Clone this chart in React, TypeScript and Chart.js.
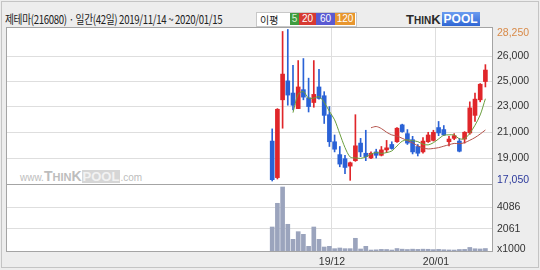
import React, { useEffect, useRef } from 'react';
import { Chart, registerables } from 'chart.js';

Chart.register(...registerables);

// ---- data -----------------------------------------------------------------
const dates: string[] = [
  '2019/11/14', '2019/11/15', '2019/11/18', '2019/11/19', '2019/11/20', '2019/11/21', '2019/11/22',
  '2019/11/25', '2019/11/26', '2019/11/27', '2019/11/28', '2019/11/29',
  '2019/12/02', '2019/12/03', '2019/12/04', '2019/12/05', '2019/12/06', '2019/12/09', '2019/12/10',
  '2019/12/11', '2019/12/12', '2019/12/13', '2019/12/16', '2019/12/17', '2019/12/18', '2019/12/19',
  '2019/12/20', '2019/12/23', '2019/12/24', '2019/12/26', '2019/12/27', '2019/12/30',
  '2020/01/02', '2020/01/03', '2020/01/06', '2020/01/07', '2020/01/08', '2020/01/09', '2020/01/10',
  '2020/01/13', '2020/01/14', '2020/01/15',
];
const opens = [20000, 17300, 23050, 24450, 23550, 22400, 23800, 23200, 22850, 24000, 23350, 21950, 19950, 19000, 18700, 18150, 18550, 19850, 19100, 18750, 19200, 18950, 19350, 19750, 19950, 21200, 20550, 20100, 19600, 19200, 19950, 20050, 21000, 20850, 19950, 20200, 20000, 20150, 20600, 21900, 23050, 24400];
const highs = [20900, 22400, 28100, 28250, 25600, 25950, 26100, 24650, 25950, 25300, 23650, 22550, 20450, 19600, 18950, 18450, 21950, 20200, 20800, 19200, 19400, 19600, 20050, 19950, 21000, 21250, 20850, 20350, 19750, 20250, 20650, 20800, 21450, 21150, 20350, 20550, 20200, 20700, 22900, 23550, 24250, 25650];
const lows = [17050, 17200, 20950, 22650, 22300, 22400, 23050, 22150, 22500, 23100, 21300, 19600, 19200, 18100, 17600, 17100, 18500, 18850, 18550, 18700, 18750, 18900, 19150, 19400, 19900, 20650, 19750, 19050, 18900, 19100, 19900, 20000, 20400, 20400, 19650, 20100, 19200, 19850, 20500, 21450, 22900, 24000];
const closes = [17150, 22350, 24950, 23400, 22650, 24000, 23250, 22550, 23450, 23150, 21900, 19950, 19400, 18300, 18050, 18400, 19650, 19200, 18850, 19100, 18950, 19350, 19500, 19450, 20950, 20700, 19850, 19200, 19100, 20000, 20450, 20650, 20600, 20450, 20150, 20400, 19250, 20650, 22450, 23100, 24200, 25250];
const volumes = [2229, 4430, 5943, 2480, 1086, 1795, 1548, 433, 2229, 1086, 371, 433, 217, 279, 217, 217, 1180, 186, 433, 90, 110, 150, 140, 90, 230, 170, 140, 170, 150, 170, 160, 130, 150, 120, 100, 90, 140, 150, 330, 210, 190, 230];
const ma5: (number | null)[] = [null, null, null, null, 22100, 23470, 23650, 23170, 23180, 23280, 22860, 22200, 21570, 20540, 19520, 18820, 18760, 18720, 18830, 19040, 19150, 19090, 19150, 19270, 19640, 19990, 20090, 20030, 19960, 19770, 19720, 19880, 20160, 20430, 20460, 20450, 20170, 20180, 20580, 21170, 21930, 23130];
const ma20: (number | null)[] = [null, null, null, null, null, null, null, null, null, null, null, null, null, null, null, null, null, null, null, 20985, 21075, 20925, 20653, 20455, 20370, 20205, 20035, 19868, 19650, 19493, 19420, 19455, 19515, 19623, 19728, 19828, 19808, 19880, 20060, 20260, 20523, 20818];

const monthStartIndex = [12, 32];
const monthLabels = ['19/12', '20/01'];
const priceTickValues = [27987, 26287, 24440, 22592, 20671, 18749, 17124];
const priceTickLabels = ['28,250', '26,000', '25,000', '23,000', '21,000', '19,000', '17,050'];
const volTickValues = [4086, 2061, 150];
const volTickLabels = ['4086', '2061', 'x1000'];

const X_MIN = -51;
const X_MAX = 42.27;
const PRICE_MIN = 16828;
const PRICE_MAX = 28357;
const VOL_MAX = 6222;

// ---- styles ---------------------------------------------------------------
const RED = '#e0262a';
const BLUE = '#2a62d6';
const GRID = '#dedede';
const TICK_FONT = { family: '"Liberation Sans", Arial, sans-serif', size: 10.5 };

function xScale(showLabels: boolean) {
  return {
    type: 'linear',
    min: X_MIN,
    max: X_MAX,
    offset: false,
    afterBuildTicks: (axis: any) => {
      axis.ticks = monthStartIndex.map((i) => ({ value: i - 0.5 }));
    },
    afterFit: (axis: any) => {
      axis.height = showLabels ? 19 : 0;
    },
    grid: { color: GRID, drawTicks: false, offset: false },
    border: { display: false },
    ticks: {
      display: showLabels,
      autoSkip: false,
      maxRotation: 0,
      padding: 5,
      color: '#333',
      font: TICK_FONT,
      callback: (_v: any, i: number) => monthLabels[i],
    },
  };
}

export default function App() {
  const priceRef = useRef<HTMLCanvasElement>(null);
  const volRef = useRef<HTMLCanvasElement>(null);

  useEffect(() => {
    const idx = dates.map((_, i) => i);
    const candleColor = idx.map((i) => (closes[i] >= opens[i] ? RED : BLUE));

    const price = new Chart(priceRef.current!, {
      type: 'bar',
      data: {
        datasets: [
          {
            type: 'line',
            label: 'MA5',
            data: idx.map((i) => ({ x: i, y: ma5[i] })) as any,
            borderColor: '#6a9e3e',
            borderWidth: 1,
            pointRadius: 0,
            tension: 0.3,
            order: 0,
          },
          {
            type: 'line',
            label: 'MA20',
            data: idx.map((i) => ({ x: i, y: ma20[i] })) as any,
            borderColor: '#b4524a',
            borderWidth: 1,
            pointRadius: 0,
            tension: 0.3,
            order: 0,
          },
          {
            type: 'bar',
            label: 'body',
            data: idx.map((i) => ({ x: i, y: [opens[i], closes[i]] })) as any,
            backgroundColor: candleColor,
            barThickness: 4,
            minBarLength: 1,
            grouped: false,
            order: 1,
          },
          {
            type: 'bar',
            label: 'wick',
            data: idx.map((i) => ({ x: i, y: [lows[i], highs[i]] })) as any,
            backgroundColor: candleColor,
            barThickness: 1,
            grouped: false,
            order: 2,
          },
        ],
      },
      options: {
        responsive: false,
        animation: false,
        events: [],
        layout: { padding: { left: 7, top: 28, right: 0, bottom: 16 } },
        plugins: { legend: { display: false }, tooltip: { enabled: false } },
        scales: {
          x: xScale(false) as any,
          y: {
            type: 'linear',
            position: 'right',
            min: PRICE_MIN,
            max: PRICE_MAX,
            afterFit: (axis: any) => {
              axis.width = 48;
            },
            afterBuildTicks: (axis: any) => {
              axis.ticks = priceTickValues.map((v) => ({ value: v }));
            },
            grid: {
              drawTicks: false,
              color: (ctx: any) =>
                ctx.index === 0 || ctx.index === priceTickValues.length - 1 ? 'rgba(0,0,0,0)' : GRID,
            },
            border: { display: false },
            ticks: {
              autoSkip: false,
              padding: 5,
              font: TICK_FONT,
              color: (ctx: any) =>
                ctx.index === 0 ? '#d88a48' : ctx.index === priceTickValues.length - 1 ? '#2c3a9c' : '#333',
              callback: (_v: any, i: number) => priceTickLabels[i],
            },
          },
        },
      },
    });

    const vol = new Chart(volRef.current!, {
      type: 'bar',
      data: {
        datasets: [
          {
            label: 'volume',
            data: idx.map((i) => ({ x: i, y: volumes[i] })) as any,
            backgroundColor: '#9ba4bd',
            barThickness: 4,
            grouped: false,
          },
        ],
      },
      options: {
        responsive: false,
        animation: false,
        events: [],
        layout: { padding: { left: 7, top: 14, right: 0, bottom: 0 } },
        plugins: { legend: { display: false }, tooltip: { enabled: false } },
        scales: {
          x: xScale(true) as any,
          y: {
            type: 'linear',
            position: 'right',
            min: 0,
            max: VOL_MAX,
            afterFit: (axis: any) => {
              axis.width = 48;
            },
            afterBuildTicks: (axis: any) => {
              axis.ticks = volTickValues.map((v) => ({ value: v }));
            },
            grid: {
              drawTicks: false,
              color: (ctx: any) => (ctx.index === volTickValues.length - 1 ? 'rgba(0,0,0,0)' : GRID),
            },
            border: { display: false },
            ticks: {
              autoSkip: false,
              padding: 5,
              font: TICK_FONT,
              color: '#333',
              callback: (_v: any, i: number) => volTickLabels[i],
            },
          },
        },
      },
    });

    return () => {
      price.destroy();
      vol.destroy();
    };
  }, []);

  const abs = (s: React.CSSProperties): React.CSSProperties => ({ position: 'absolute', ...s });
  const legendBox = (bg: string, left: number, width: number, text: string, color = '#fff') => (
    <div
      style={abs({
        left,
        top: 13,
        width,
        height: 12,
        background: bg,
        color,
        fontSize: 10,
        lineHeight: '12px',
        textAlign: 'center',
        fontFamily: '"Liberation Sans", Arial, sans-serif',
      })}
    >
      {text}
    </div>
  );

  return (
    <div
      style={{
        position: 'fixed',
        left: 0,
        top: 0,
        width: 540,
        height: 270,
        background: '#ededed',
        overflow: 'hidden',
      }}
    >
      <div style={abs({ left: 1, top: 1, width: 538, height: 267, border: '1px solid #c4c4c4', boxSizing: 'border-box' })} />
      {/* title */}
      <div
        style={abs({
          left: 5,
          top: 12,
          fontSize: 12,
          lineHeight: '14px',
          color: '#222',
          whiteSpace: 'nowrap',
          fontFamily: '"Noto Sans CJK KR", sans-serif',
          letterSpacing: -0.4,
          transform: 'scaleX(0.805)',
          transformOrigin: '0 50%',
        })}
      >
        제테마(216080) · 일간(42일) 2019/11/14 ~ 2020/01/15
      </div>
      {/* legend */}
      <div style={abs({ left: 256, top: 12, width: 101, height: 15, background: '#fff', border: '1px solid #c8c8c8', boxSizing: 'border-box' })} />
      <div
        style={abs({
          left: 260,
          top: 12,
          fontSize: 10,
          lineHeight: '15px',
          color: '#222',
          fontFamily: '"Noto Sans CJK KR", sans-serif',
        })}
      >
        이평
      </div>
      {legendBox('#3f9b3f', 290, 9, '5', '#d8f0d0')}
      {legendBox('#d73a32', 299, 17, '20')}
      {legendBox('#5a5ad2', 316, 19, '60')}
      {legendBox('#e8962e', 335, 20, '120')}
      {/* logo */}
      <div
        style={abs({
          left: 406,
          top: 12,
          height: 14,
          display: 'flex',
          alignItems: 'flex-end',
          fontFamily: '"Liberation Sans", Arial, sans-serif',
          fontWeight: 'bold',
          whiteSpace: 'nowrap',
        })}
      >
        <span style={{ color: '#2a2a2a', fontSize: 13, lineHeight: '13px' }}>T</span>
        <span style={{ color: '#2a2a2a', fontSize: 10, lineHeight: '11px' }}>HIN</span>
        <span style={{ color: '#2a2a2a', fontSize: 13, lineHeight: '13px' }}>K</span>
        <span
          style={{
            color: '#fff',
            fontSize: 12,
            lineHeight: '14px',
            background: 'linear-gradient(#6b9cf0, #2f66d4)',
            padding: '0 2px',
            marginLeft: 1,
          }}
        >
          POOL
        </span>
      </div>
      {/* plot frame */}
      <div style={abs({ left: 6, top: 27, width: 487, height: 225, background: '#fff', border: '1px solid #a4a4a4', boxSizing: 'border-box' })} />
      <div style={abs({ left: 6, top: 184, width: 487, height: 1, background: '#a4a4a4' })} />
      {/* watermark */}
      <div
        style={abs({
          left: 20,
          top: 170,
          height: 13,
          display: 'flex',
          alignItems: 'flex-end',
          fontFamily: '"Liberation Sans", Arial, sans-serif',
          color: '#bdbdbd',
          whiteSpace: 'nowrap',
        })}
      >
        <span style={{ fontSize: 10, lineHeight: '11px' }}>www.</span>
        <span style={{ fontSize: 14, lineHeight: '13px', fontWeight: 'bold' }}>T</span>
        <span style={{ fontSize: 11, lineHeight: '11px', fontWeight: 'bold' }}>HIN</span>
        <span style={{ fontSize: 14, lineHeight: '13px', fontWeight: 'bold' }}>K</span>
        <span style={{ fontSize: 13, lineHeight: '13px', fontWeight: 'bold', color: '#f2f2f2', background: '#d6d6d6', padding: '0 1px' }}>
          POOL
        </span>
        <span style={{ fontSize: 10, lineHeight: '11px' }}>.com</span>
      </div>
      <canvas ref={priceRef} width={540} height={200} style={abs({ left: 0, top: 0, width: 540, height: 200 })} />
      <canvas ref={volRef} width={540} height={100} style={abs({ left: 0, top: 170, width: 540, height: 100 })} />
    </div>
  );
}
